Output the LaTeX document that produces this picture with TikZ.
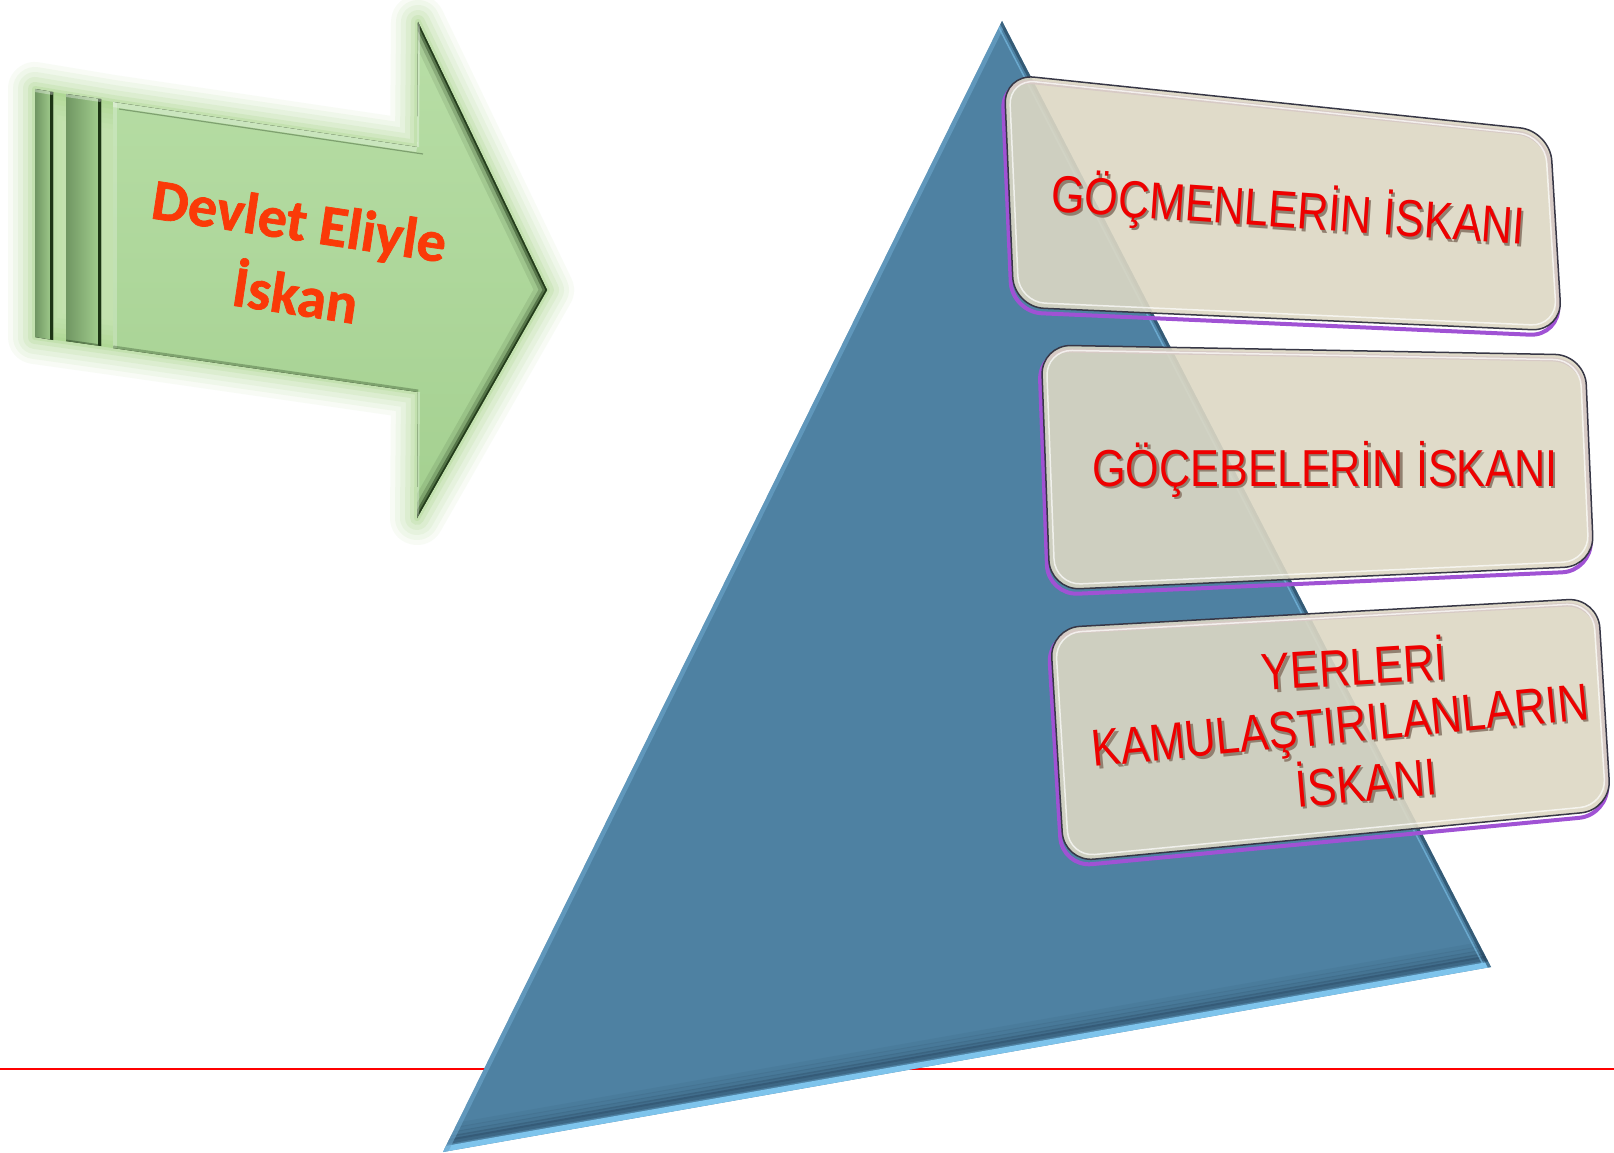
\documentclass[tikz,border=0pt]{standalone}
\usepackage{fontspec}
\newfontfamily\carlitofont{Carlito}[BoldFeatures={FakeBold=1.2}]
\newfontfamily\arialfont{Liberation Sans}
\usetikzlibrary{calc}
\definecolor{triblue}{RGB}{78,129,162}
\definecolor{trilight}{RGB}{126,196,236}
\definecolor{tririm}{RGB}{108,166,204}
\definecolor{tridark}{RGB}{36,66,90}
\definecolor{boxfill}{RGB}{221,216,196}
\definecolor{boxline}{RGB}{55,55,70}
\definecolor{boxpurple}{RGB}{160,82,212}
\definecolor{txtred}{RGB}{238,0,0}
\definecolor{txtshd}{RGB}{145,128,112}
\definecolor{arrowfill}{RGB}{164,208,144}
\definecolor{arrowtop}{RGB}{184,222,166}
\definecolor{arrowdark}{RGB}{28,52,20}
\definecolor{barleft}{RGB}{112,150,98}
\definecolor{glowgreen}{RGB}{168,214,138}
\definecolor{arrowtxt}{RGB}{250,58,8}
\newcommand{\shtext}[1]{\makebox[0pt][l]{\hspace{2.5pt}\raisebox{-2.5pt}{\textcolor{txtshd}{#1}}}#1}
\begin{document}
\begin{tikzpicture}[x=1pt,y=-1pt,
  boxtxt/.style={text=txtred, font=\arialfont\fontsize{52}{60}\selectfont, anchor=base, inner sep=0pt, xscale=0.83},
  arrtxt/.style={text=arrowtxt, font=\carlitofont\bfseries\fontsize{58}{74}\selectfont, align=center, inner sep=0pt},
  glowline/.style={draw=glowgreen, fill=glowgreen, line join=round},
  boxbody/.style={fill=boxfill, fill opacity=0.9, draw=boxline, line width=1.5pt, rounded corners=30pt},
  boxedge/.style={draw=boxpurple, line width=4pt, rounded corners=30pt},
  boxshine/.style={draw=white, draw opacity=0.7, line width=1.5pt, rounded corners=26pt}
]
\useasboundingbox (0,0) rectangle (1614,1153);
\fill[white] (0,0) rectangle (1614,1153);

% ---------- red rule ----------
\coordinate (rl) at (0,1069);
\coordinate (rr) at (1614,1069);
\draw[red, line width=2.5pt] (rl) -- (rr);

% ---------- triangle ----------
\coordinate (T) at (1002,21);
\coordinate (L) at (443,1152);
\coordinate (R) at (1491,967);
\fill[triblue] (T) -- (L) -- (R) -- cycle;
\begin{scope}
  \clip (T) -- (L) -- (R) -- cycle;
  \foreach \d/\o in {24/0.08, 20/0.12, 16/0.2, 12.5/0.3, 9.5/0.4}{
    \draw[tridark, line width=5pt, opacity=\o] ($(L)+(-0.174*\d,-0.985*\d)$) -- ($(R)+(-0.174*\d,-0.985*\d)$);
  }
  \draw[trilight, line width=11pt] (L) -- (R);
  \draw[tririm, line width=9pt, opacity=0.6] (L) -- (T);
  \draw[tridark, line width=6pt, opacity=0.6] (T) -- (R);
  \draw[trilight, line width=1.5pt, opacity=0.6] ($(T)+(-5,3)$) -- ($(R)+(-5,3)$);
\end{scope}

% ---------- arrow ----------
\coordinate (a1) at (113,102);
\coordinate (a2) at (417,147);
\coordinate (a3) at (418,22);
\coordinate (a4) at (547,290);
\coordinate (a5) at (417,518);
\coordinate (a6) at (418,392);
\coordinate (a7) at (113,348);
\coordinate (g1) at (35,89);
\coordinate (g2) at (35,337);
% glow
\foreach \w/\o in {54/0.08, 44/0.10, 34/0.12, 24/0.16, 14/0.22, 6/0.3}{
  \path[glowline, line width=\w pt, draw opacity=\o, fill opacity=\o]
    (g1) -- (a1) -- (a2) -- (a3) -- (a4) -- (a5) -- (a6) -- (a7) -- (g2) -- cycle;
}
% bars
\coordinate (b1a) at (35,89);  \coordinate (b1b) at (53,92);
\coordinate (b1c) at (53,340); \coordinate (b1d) at (35,337);
\coordinate (b2a) at (66,94);  \coordinate (b2b) at (101,99);
\coordinate (b2c) at (101,346);\coordinate (b2d) at (66,341);
\fill[left color=barleft, right color=arrowfill] (b1a) -- (b1b) -- (b1c) -- (b1d) -- cycle;
\fill[left color=barleft, right color=arrowfill] (b2a) -- (b2b) -- (b2c) -- (b2d) -- cycle;
\begin{scope}
  \clip (b1a) -- (b1b) -- (b1c) -- (b1d) -- cycle;
  \draw[arrowdark, line width=7pt] (b1b) -- (b1c);
  \draw[white, line width=6pt, opacity=0.35] (b1a) -- (b1b);
\end{scope}
\begin{scope}
  \clip (b2a) -- (b2b) -- (b2c) -- (b2d) -- cycle;
  \draw[arrowdark, line width=7pt] (b2b) -- (b2c);
  \draw[white, line width=6pt, opacity=0.35] (b2a) -- (b2b);
  \draw[arrowdark, line width=3pt, opacity=0.4] (b2d) -- (b2c);
\end{scope}
% body
\fill[top color=arrowtop, bottom color=arrowfill]
  (a1) -- (a2) -- (a3) -- (a4) -- (a5) -- (a6) -- (a7) -- cycle;
\begin{scope}
  \clip (a1) -- (a2) -- (a3) -- (a4) -- (a5) -- (a6) -- (a7) -- cycle;
  \draw[arrowdark, line width=24pt, opacity=0.10] (a3) -- (a4) -- (a5);
  \draw[arrowdark, line width=15pt, opacity=0.20] (a3) -- (a4) -- (a5);
  \draw[arrowdark, line width=8pt, opacity=0.45] (a3) -- (a4) -- (a5);
  \draw[arrowdark, line width=3pt, opacity=0.85] (a3) -- (a4) -- (a5);
  \draw[white, line width=10pt, opacity=0.3] (a1) -- (a2);
  \draw[arrowdark, line width=1.2pt, opacity=0.35] ($(a1)+(6,7)$) -- ($(a2)+(6,7)$);
  \draw[white, line width=8pt, opacity=0.25] (a1) -- (a7);
  \draw[arrowdark, line width=5pt, opacity=0.3] (a7) -- (a6);
  \draw[white, line width=4pt, opacity=0.35] (a2) -- (a3);
  \draw[white, line width=4pt, opacity=0.3] (a6) -- (a5);
\end{scope}
\node[rotate=-8.6, arrtxt] (dev) at (294,257) {Devlet Eliyle\\\hspace*{14pt}İskan};

% ---------- boxes ----------
\coordinate (p1a) at (1004,74);  \coordinate (p1b) at (1550,131);
\coordinate (p1c) at (1562,331); \coordinate (p1d) at (1014,307);
\coordinate (p2a) at (1041,345); \coordinate (p2b) at (1585,355);
\coordinate (p2c) at (1594,566); \coordinate (p2d) at (1050,590);
\coordinate (p3a) at (1050,628); \coordinate (p3b) at (1598,598);
\coordinate (p3c) at (1611,810); \coordinate (p3d) at (1064,862);

\foreach \q in {1,2,3}{
  \draw[boxedge] ($(p\q a)+(-2,5)$) -- ($(p\q b)+(-2,5)$) -- ($(p\q c)+(-2,5)$) -- ($(p\q d)+(-2,5)$) -- cycle;
  \draw[boxbody] (p\q a) -- (p\q b) -- (p\q c) -- (p\q d) -- cycle;
  \draw[boxshine] ($(p\q a)+(5,5)$) -- ($(p\q b)+(-5,5)$) -- ($(p\q c)+(-5,-5)$) -- ($(p\q d)+(5,-5)$) -- cycle;
}

% ---------- box texts ----------
\node[rotate=-4, boxtxt] (t1) at (1287,228) {\shtext{GÖÇMENLERİN İSKANI}};
\node[rotate=0, boxtxt] (t2) at (1325,486) {\shtext{GÖÇEBELERİN İSKANI}};
\node[rotate=3.5, boxtxt] (t3a) at (1355,685) {\shtext{YERLERİ}};
\node[rotate=5.5, boxtxt] (t3b) at (1342,743) {\shtext{KAMULAŞTIRILANLARIN}};
\node[rotate=5, boxtxt] (t3c) at (1368,801) {\shtext{İSKANI}};
\end{tikzpicture}
\end{document}
